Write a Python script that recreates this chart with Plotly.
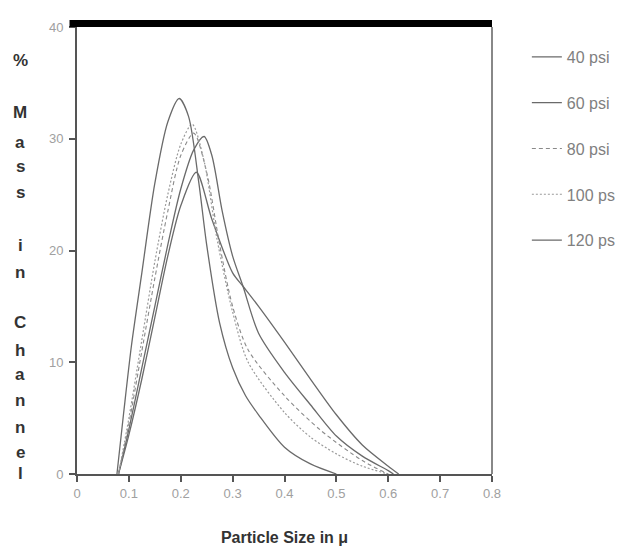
import plotly.graph_objects as go

# ---- data ----
x_40 = [0.08, 0.1, 0.125, 0.15, 0.175, 0.2, 0.23, 0.26, 0.3, 0.32, 0.35, 0.4, 0.45, 0.5, 0.55, 0.6, 0.62]
y_40 = [0, 3.5, 8.5, 14, 19.5, 24, 27, 22.8, 18, 16.8, 15, 11.8, 8.5, 5.3, 2.6, 0.7, 0]

x_60 = [0.08, 0.1, 0.125, 0.15, 0.175, 0.2, 0.225, 0.245, 0.26, 0.28, 0.3, 0.32, 0.35, 0.4, 0.45, 0.5, 0.55, 0.6, 0.61]
y_60 = [0, 4, 9.5, 15, 20.5, 25.5, 29, 30.2, 28.5, 23.5, 19.5, 16.8, 12.6, 9.1, 6.2, 3.4, 1.6, 0.3, 0]

x_80 = [0.08, 0.1, 0.125, 0.15, 0.175, 0.2, 0.225, 0.25, 0.275, 0.3, 0.33, 0.4, 0.47, 0.55, 0.6]
y_80 = [0, 4.5, 11, 17.5, 23.5, 28.5, 30.5, 27, 20.5, 15, 11.1, 7, 3.9, 1.2, 0]

x_100 = [0.08, 0.1, 0.125, 0.15, 0.175, 0.2, 0.222, 0.245, 0.27, 0.3, 0.33, 0.4, 0.45, 0.5, 0.55, 0.6]
y_100 = [0, 5, 12, 19, 25, 29.5, 31.3, 28, 21, 14.5, 10, 5.5, 3.3, 1.8, 0.7, 0]

x_120 = [0.077, 0.09, 0.105, 0.125, 0.15, 0.175, 0.197, 0.215, 0.235, 0.25, 0.275, 0.3, 0.325, 0.35, 0.4, 0.45, 0.5]
y_120 = [0, 5.5, 11.5, 18, 26, 31.5, 33.6, 32, 26, 20.5, 13.5, 9.5, 7, 5.3, 2.4, 0.9, 0]

series_names = ["40 psi", "60 psi", "80 psi", "100 psi", "120 psi"]
x_tick_vals = [0, 0.1, 0.2, 0.3, 0.4, 0.5, 0.6, 0.7, 0.8]
x_tick_text = ["0", "0.1", "0.2", "0.3", "0.4", "0.5", "0.6", "0.7", "0.8"]
y_tick_vals = [0, 10, 20, 30, 40]
y_label_letters = ["%", "M", "a", "s", "s", "i", "n", "C", "h", "a", "n", "n", "e", "l"]

xs = [x_40, x_60, x_80, x_100, x_120]
ys = [y_40, y_60, y_80, y_100, y_120]
dashes = ["solid", "solid", "4px,3px", "2px,2px", "solid"]
colors = ["#6a6a6a", "#6a6a6a", "#8a8a8a", "#9a9a9a", "#6a6a6a"]
widths = [1.3, 1.3, 1.1, 1.2, 1.3]

FONT = "Liberation Sans, Arial, sans-serif"

fig = go.Figure()
for i, name in enumerate(series_names):
    fig.add_trace(go.Scatter(
        x=xs[i], y=ys[i], mode="lines", name=name,
        line=dict(shape="spline", smoothing=0.8, dash=dashes[i], color=colors[i], width=widths[i]),
        legendgroup=name,
    ))

# page has an 8px body margin; target plot area in page pixels: x 77..492, y 27..474
OFF = 8
FW, FH = 623, 552
PL, PR, PT, PB = 77 - OFF, 492 - OFF, 27 - OFF, 474 - OFF
PW, PH = PR - PL, PB - PT

# vertical stacked y-axis title, one character per line position
label_y_px = [60, 112, 142, 167, 193, 246, 272, 322, 350, 374, 400, 427, 452, 473]
for ch, ypx in zip(y_label_letters, label_y_px):
    fig.add_annotation(
        text="<b>" + ch + "</b>", xref="paper", yref="paper",
        x=(20 - 77) / PW, y=(474 - ypx) / PH,
        showarrow=False, xanchor="center", yanchor="middle",
        font=dict(family=FONT, size=17, color="#333333"),
    )

# thick top border and right frame line
fig.add_shape(type="line", xref="paper", yref="paper", x0=-0.018, x1=1.0, y0=1.008, y1=1.008,
              line=dict(color="#000000", width=7))
fig.add_shape(type="line", xref="paper", yref="paper", x0=1.0, x1=1.0, y0=0, y1=1.0,
              line=dict(color="#888888", width=2))

fig.update_layout(
    width=FW, height=FH,
    margin=dict(l=PL, r=FW - PR, t=PT, b=FH - PB, autoexpand=False),
    paper_bgcolor="white", plot_bgcolor="white",
    showlegend=True,
    legend=dict(
        x=1.084, y=0.971, xanchor="left", yanchor="top",
        font=dict(family=FONT, size=16, color="#808080"),
        tracegroupgap=22, itemwidth=30, bgcolor="rgba(0,0,0,0)",
    ),
    xaxis=dict(
        range=[0, 0.8], tickvals=x_tick_vals, ticktext=x_tick_text,
        showgrid=False, zeroline=False, showline=True, linecolor="#555555", linewidth=2,
        ticks="outside", ticklen=6, tickwidth=2, tickcolor="#555555",
        tickfont=dict(family=FONT, size=13, color="#a0a0a0"),
        title=dict(text="<b>Particle Size in μ</b>", standoff=32,
                   font=dict(family=FONT, size=16, color="#333333")),
    ),
    yaxis=dict(
        range=[0, 40], tickvals=y_tick_vals,
        showgrid=False, zeroline=False, showline=True, linecolor="#555555", linewidth=2,
        ticks="outside", ticklen=6, tickwidth=2, tickcolor="#555555", ticklabelstandoff=3,
        tickfont=dict(family=FONT, size=13, color="#a0a0a0"),
    ),
)

fig.write_html("out.html")
